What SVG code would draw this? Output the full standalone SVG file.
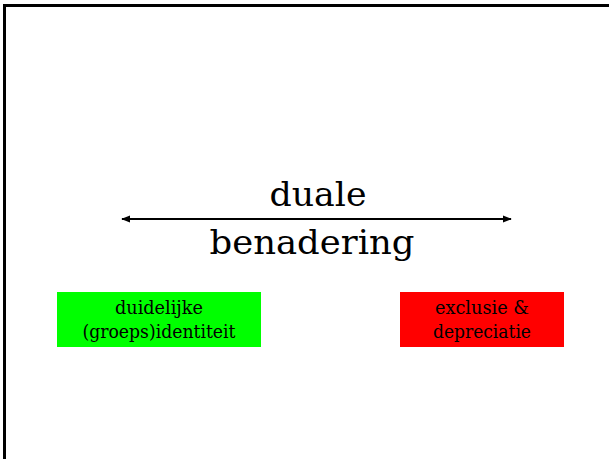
<svg xmlns="http://www.w3.org/2000/svg" width="609" height="459" viewBox="0 0 609 459">
<style>
.t{font-family:"DejaVu Serif","Liberation Serif",serif;fill:#000;text-anchor:middle}
.big{font-size:33px}
.sm{font-size:18.5px}
</style>
<defs>
<marker id="ah" viewBox="0 0 10 10" refX="9" refY="5" markerWidth="9" markerHeight="9" markerUnits="userSpaceOnUse" orient="auto-start-reverse">
<path d="M0,1 L10,5 L0,9 Z" fill="#000"/>
</marker>
</defs>
<rect width="609" height="459" fill="#fff"/>
<path d="M4.5,459 V5.5 H609" fill="none" stroke="#000" stroke-width="3"/>
<g id="connectors">
<line x1="122" y1="219" x2="511" y2="219" stroke="#000" stroke-width="2" marker-start="url(#ah)" marker-end="url(#ah)"/>
</g>
<g id="title">
<text class="t big" x="318" y="206" textLength="97" lengthAdjust="spacingAndGlyphs">duale</text>
<text class="t big" x="312" y="254" textLength="205" lengthAdjust="spacingAndGlyphs">benadering</text>
</g>
<g id="identiteit">
<rect x="57" y="292" width="204" height="55" fill="#00ff00"/>
<text class="t sm" x="159" y="314" textLength="88" lengthAdjust="spacingAndGlyphs">duidelijke</text>
<text class="t sm" x="159" y="338" textLength="153" lengthAdjust="spacingAndGlyphs">(groeps)identiteit</text>
</g>
<g id="exclusie">
<rect x="400" y="292" width="164" height="55" fill="#ff0000"/>
<text class="t sm" x="482" y="314" textLength="94" lengthAdjust="spacingAndGlyphs">exclusie &amp;</text>
<text class="t sm" x="482" y="338" textLength="98" lengthAdjust="spacingAndGlyphs">depreciatie</text>
</g>
</svg>
